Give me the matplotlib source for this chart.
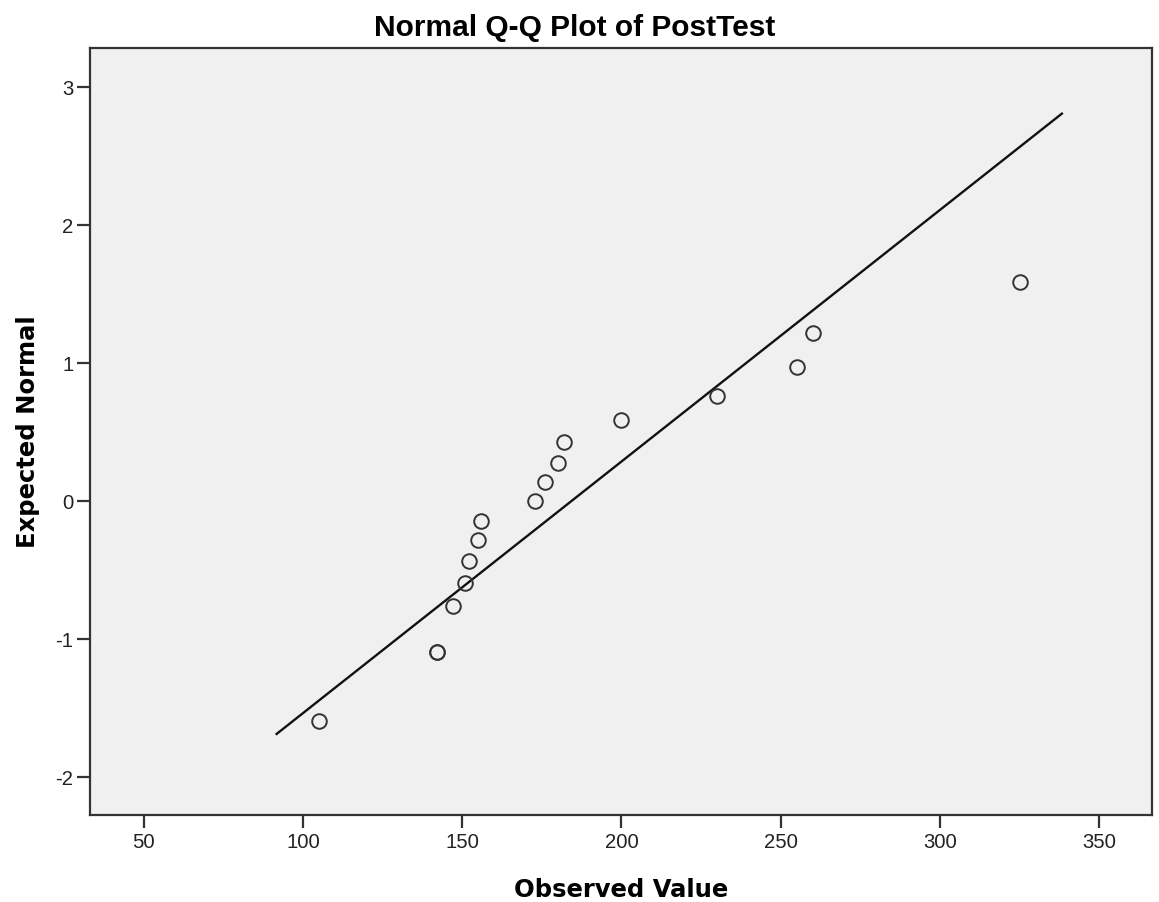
import matplotlib
matplotlib.use("Agg")
import matplotlib.pyplot as plt
import numpy as np


PLT_TITLE = "Normal Q-Q Plot of PostTest"
PLT_XLABEL = "Observed Value"
PLT_YLABEL = "Expected Normal"

# observed PostTest scores (two tied at 142)
observed = [105, 142, 142, 147, 151, 152, 155, 156, 173, 176, 180, 182,
            200, 230, 255, 260, 325]
# expected normal values
expected = [-1.59, -1.09, -1.09, -0.76, -0.59, -0.43, -0.28, -0.14, 0.0,
            0.14, 0.28, 0.43, 0.59, 0.76, 0.97, 1.22, 1.59]
# x span of the reference line
line_x = [91.7, 338.3]

x_ticks = [50, 100, 150, 200, 250, 300, 350]
y_ticks = [-2, -1, 0, 1, 2, 3]


def main():
    plt.rcParams["font.family"] = ["Liberation Sans", "DejaVu Sans"]
    plt.rcParams["axes.unicode_minus"] = False

    fig = plt.figure(figsize=(11.59, 9.02), dpi=100)
    W, H = 1159, 902
    ax = fig.add_axes([90 / W, 1 - 815 / H, (1152 - 90) / W, (815 - 48) / H])
    ax.set_facecolor("#f0f0f0")

    obs = np.array(observed, dtype=float)
    mean, sd = obs.mean(), obs.std(ddof=1)
    lx = np.array(line_x)
    ax.plot(lx, (lx - mean) / sd, color="#111111", lw=1.7, zorder=2)

    ax.plot(observed, expected, linestyle="none", marker="o", ms=10.5,
            mfc="none", mec="#333333", mew=1.4, zorder=3)

    ax.set_xlim(33.1, 366.6)
    ax.set_ylim(-2.273, 3.285)
    ax.set_xticks(x_ticks)
    ax.set_yticks(y_ticks)
    ax.tick_params(direction="out", length=9.4, width=1.6, labelsize=14.6,
                   color="#333333", labelcolor="#222222", pad=2.5)
    ax.tick_params(axis="x", pad=3.5)
    for s in ax.spines.values():
        s.set_linewidth(1.6)
        s.set_color("#333333")

    # SPSS centres the title on the whole chart, not on the plot area
    ax.set_title(PLT_TITLE, fontsize=21.5, fontweight="bold", pad=9,
                 x=(575 - 90) / (1152 - 90))
    lab = dict(fontsize=17.5, fontweight="bold", family="DejaVu Sans")
    ax.set_xlabel(PLT_XLABEL, labelpad=19, **lab)
    ax.set_ylabel(PLT_YLABEL, labelpad=11.5, **lab)

    fig.savefig("out.png", dpi=100, facecolor="white")


if __name__ == "__main__":
    main()
